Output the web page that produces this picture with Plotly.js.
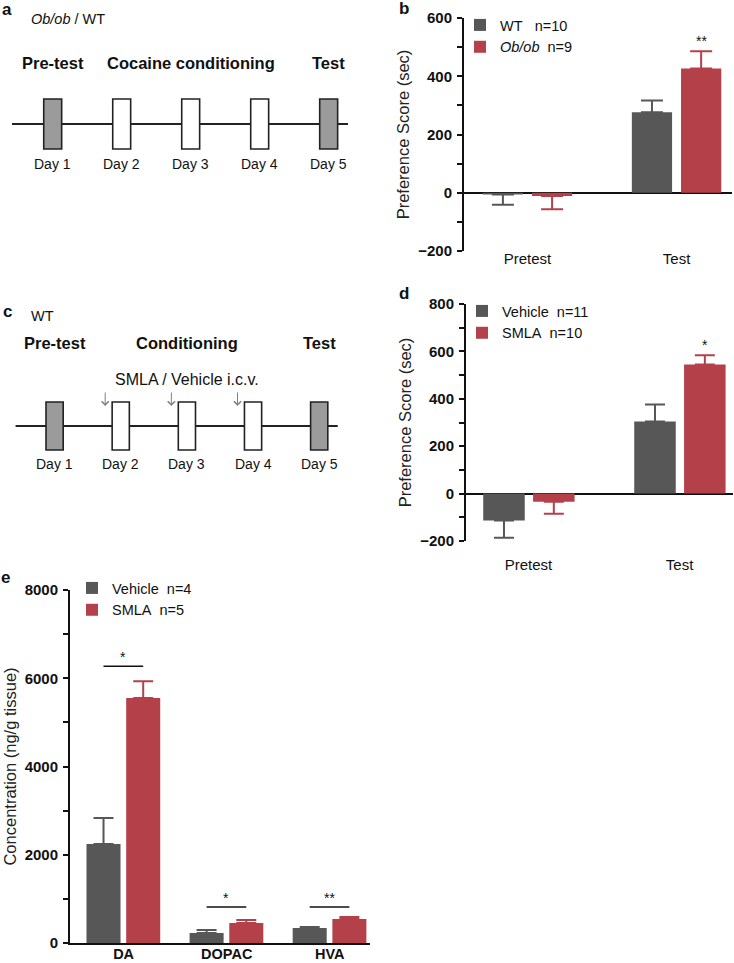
<!DOCTYPE html>
<html>
<head>
<meta charset="utf-8">
<script src="https://cdn.plot.ly/plotly-3.0.1.min.js"></script>
<style>html,body{margin:0;padding:0;background:#fff;}#chart{width:734px;height:963px;}</style>
</head>
<body>
<div id="chart"></div>
<script>
// ---------------- DATA ----------------
const prefCats = ['Pretest', 'Test'];
const bNames = ['WT\u00a0\u00a0\u00a0n=10', '<i>Ob/ob</i>\u00a0\u00a0n=9'];
const bWT = [-6, 276];
const bWTerr = [35, 41];
const bOb = [-11, 427];
const bObErr = [46, 59];
const bSig = ['', '**'];

const dNames = ['Vehicle\u00a0\u00a0n=11', 'SMLA\u00a0\u00a0n=10'];
const dVeh = [-114, 304];
const dVehErr = [72, 72];
const dSMLA = [-34, 545];
const dSMLAErr = [51, 39];
const dSig = ['', '*'];

const eCats = ['DA', 'DOPAC', 'HVA'];
const eNames = ['Vehicle\u00a0\u00a0n=4', 'SMLA\u00a0\u00a0n=5'];
const eVeh = [2242, 226, 340];
const eVehErr = [589, 68, 22];
const eSMLA = [5550, 453, 543];
const eSMLAErr = [384, 67, 46];
const eSig = ['*', '*', '**'];
const eSigY = [6274, 815, 815];

const dayNums = [1, 2, 3, 4, 5];
const dayLabels = ['Day 1', 'Day 2', 'Day 3', 'Day 4', 'Day 5'];
const dayKinds = ['test', 'cond', 'cond', 'cond', 'test'];
const phasesA = ['Pre-test', 'Cocaine conditioning', 'Test'];
const phasesC = ['Pre-test', 'Conditioning', 'Test'];
const phaseDays = [1, 3, 5];
const injectionDays = [2, 3, 4];
const injectionLabel = 'SMLA / Vehicle i.c.v.';

// ---------------- STYLE ----------------
const FONT = 'Liberation Sans, Arial, Helvetica, sans-serif';
const GRAY = '#575757';
const RED = '#b4414a';
const INK = '#111111';
const W = 734, H = 963;
const px = v => v / W;
const py = v => 1 - v / H;

function errs(vals, e) {
  return {
    plus: vals.map((v, i) => v >= 0 ? e[i] : 0),
    minus: vals.map((v, i) => v < 0 ? e[i] : 0)
  };
}
function barTrace(name, cats, vals, e, color, xa, ya, offset, width, legend, capw) {
  const er = errs(vals, e);
  return {
    type: 'bar', name: name, x: cats, y: vals, xaxis: xa, yaxis: ya,
    offset: offset, width: width, legend: legend,
    marker: {color: color, line: {width: 0}},
    error_y: {type: 'data', symmetric: false, array: er.plus, arrayminus: er.minus,
      color: color, thickness: 2, width: capw},
    hoverinfo: 'skip'
  };
}

const traces = [
  barTrace(bNames[0], prefCats, bWT, bWTerr, GRAY, 'x', 'y', -0.30, 0.27, 'legend', 11),
  barTrace(bNames[1], prefCats, bOb, bObErr, RED, 'x', 'y', 0.03, 0.27, 'legend', 11),
  barTrace(dNames[0], prefCats, dVeh, dVehErr, GRAY, 'x2', 'y2', -0.30, 0.275, 'legend2', 10),
  barTrace(dNames[1], prefCats, dSMLA, dSMLAErr, RED, 'x2', 'y2', 0.03, 0.275, 'legend2', 10),
  barTrace(eNames[0], eCats, eVeh, eVehErr, GRAY, 'x3', 'y3', -0.36, 0.33, 'legend3', 10),
  barTrace(eNames[1], eCats, eSMLA, eSMLAErr, RED, 'x3', 'y3', 0.025, 0.33, 'legend3', 10)
];

// timeline boxes (diagrams a and c)
const boxColor = k => k === 'test' ? '#9b9b9b' : '#ffffff';
[['x4', 'y4', 25], ['x5', 'y5', 24]].forEach(([xa, ya, hh]) => {
  traces.push({
    type: 'bar', x: dayNums, y: dayNums.map(() => 2 * hh), base: -hh,
    xaxis: xa, yaxis: ya, offset: -0.13, width: 0.26, showlegend: false,
    marker: {color: dayKinds.map(boxColor), line: {color: '#222', width: 1.6}},
    hoverinfo: 'skip'
  });
});

// ---------------- ANNOTATIONS ----------------
const ann = [];
const letter = (t, x, y) => ann.push({text: '<b>' + t + '</b>', xref: 'paper', yref: 'paper',
  x: px(x), y: py(y), xanchor: 'center', yanchor: 'middle', showarrow: false,
  font: {family: FONT, size: 17, color: INK}});
letter('a', 7, 9); letter('b', 404, 8); letter('c', 7, 311); letter('d', 404, 293); letter('e', 6, 577);

ann.push({text: '<i>Ob/ob</i> / WT', xref: 'paper', yref: 'paper', x: px(29), y: py(19.5),
  xanchor: 'left', yanchor: 'middle', showarrow: false, font: {family: FONT, size: 14.5, color: INK}});
ann.push({text: 'WT', xref: 'paper', yref: 'paper', x: px(29), y: py(316),
  xanchor: 'left', yanchor: 'middle', showarrow: false, font: {family: FONT, size: 14.5, color: INK}});

// phase labels and day labels
phasesA.forEach((t, i) => ann.push({text: '<b>' + t + '</b>', xref: 'x4', yref: 'y4', x: phaseDays[i], y: 61,
  showarrow: false, yanchor: 'middle', font: {family: FONT, size: 16.5, color: INK}}));
phasesC.forEach((t, i) => ann.push({text: '<b>' + t + '</b>', xref: 'x5', yref: 'y5', x: phaseDays[i], y: 83,
  showarrow: false, yanchor: 'middle', font: {family: FONT, size: 16.5, color: INK}}));
dayLabels.forEach((t, i) => {
  ann.push({text: t, xref: 'x4', yref: 'y4', x: dayNums[i], y: -40, showarrow: false,
    yanchor: 'middle', font: {family: FONT, size: 14, color: INK}});
  ann.push({text: t, xref: 'x5', yref: 'y5', x: dayNums[i], y: -38, showarrow: false,
    yanchor: 'middle', font: {family: FONT, size: 14, color: INK}});
});
ann.push({text: injectionLabel, xref: 'x5', yref: 'y5', x: 3, y: 47, showarrow: false,
  yanchor: 'middle', font: {family: FONT, size: 16, color: INK}});
injectionDays.forEach(d => ann.push({text: '', xref: 'x5', yref: 'y5', x: d - 0.235, y: 20,
  showarrow: true, ax: 0, ay: -15, arrowhead: 4, arrowsize: 1.4, arrowwidth: 1, arrowcolor: '#808080'}));

// significance stars on b and d
function stars(sig, vals, e, xa, ya, off, wd) {
  sig.forEach((s, i) => {
    if (!s) return;
    ann.push({text: s, xref: xa, yref: ya, x: i + off + wd / 2, y: vals[i] + e[i],
      yanchor: 'bottom', showarrow: false, yshift: 0, font: {family: FONT, size: 14, color: INK}});
  });
}
stars(bSig, bOb, bObErr, 'x', 'y', 0.03, 0.27);
stars(dSig, dSMLA, dSMLAErr, 'x2', 'y2', 0.03, 0.275);

// panel e significance bars
const shapes = [];
eSig.forEach((s, i) => {
  const x0 = i - 0.36 + 0.165, x1 = i + 0.025 + 0.165;
  shapes.push({type: 'line', xref: 'x3', yref: 'y3', x0: x0, x1: x1, y0: eSigY[i], y1: eSigY[i],
    line: {color: INK, width: 1.5}});
  ann.push({text: s, xref: 'x3', yref: 'y3', x: (x0 + x1) / 2, y: eSigY[i], yanchor: 'bottom',
    showarrow: false, yshift: -1, font: {family: FONT, size: 14, color: INK}});
});

// timeline base lines
['x4', 'x5'].forEach((xa, k) => shapes.push({type: 'line', xref: xa, yref: k ? 'y5' : 'y4',
  x0: 0.41, x1: 5.28, y0: 0, y1: 0, layer: 'below', line: {color: '#222', width: 2}}));

// ---------------- AXES ----------------
const tickBold = {family: FONT, size: 15, color: INK, weight: 'bold'};
function yAx(dom, range, dtick, minor, title, anchor) {
  return {
    domain: dom, anchor: anchor, range: range, dtick: dtick, tick0: 0, fixedrange: true,
    ticks: 'outside', ticklen: 5, tickwidth: 2, tickcolor: INK,
    minor: {dtick: minor, ticks: 'outside', ticklen: 5, tickwidth: 2, tickcolor: INK, showgrid: false},
    showline: true, linewidth: 2, linecolor: INK, showgrid: false,
    zeroline: true, zerolinewidth: 2, zerolinecolor: INK,
    tickfont: tickBold, ticklabelstandoff: 2,
    title: {text: title, font: {family: FONT, size: 16.5, color: '#222'}, standoff: 4}
  };
}
function xAx(dom, range, anchor, font, extra) {
  return Object.assign({
    domain: dom, anchor: anchor, type: 'category', range: range, fixedrange: true,
    showline: false, ticks: '', showgrid: false, zeroline: false,
    tickfont: font
  }, extra || {});
}
const catFont = {family: FONT, size: 15, color: INK};

const layout = {
  width: W, height: H, margin: {l: 0, r: 0, t: 0, b: 0},
  paper_bgcolor: '#fff', plot_bgcolor: 'rgba(0,0,0,0)',
  barmode: 'overlay', hovermode: false, showlegend: true,
  font: {family: FONT, color: INK},
  xaxis: xAx([px(464), px(732)], [-0.426, 1.372], 'y', catFont, {ticklabelstandoff: -3}),
  yaxis: yAx([py(251), py(18)], [-200, 600], 200, 100, 'Preference Score (sec)', 'x'),
  xaxis2: xAx([px(466), px(733)], [-0.414, 1.354], 'y2', catFont, {ticklabelstandoff: 13}),
  yaxis2: yAx([py(541), py(304)], [-200, 800], 200, 100, 'Preference Score (sec)', 'x2'),
  xaxis3: xAx([px(70), px(370)], [-0.52, 2.39], 'y3',
    {family: FONT, size: 14.5, color: INK, weight: 'bold'},
    {showline: true, linewidth: 2, linecolor: INK, ticklabelstandoff: -3}),
  yaxis3: Object.assign(yAx([py(943), py(590)], [0, 8000], 2000, 1000, 'Concentration (ng/g tissue)', 'x3'), {zeroline: false}),
  xaxis4: {domain: [0, px(370)], anchor: 'y4', range: [0.2362, 5.599], visible: false, fixedrange: true},
  yaxis4: {domain: [py(200), 1], anchor: 'x4', range: [-76, 124], visible: false, fixedrange: true},
  xaxis5: {domain: [0, px(370)], anchor: 'y5', range: [0.1746, 5.768], visible: false, fixedrange: true},
  yaxis5: {domain: [py(500), py(250)], anchor: 'x5', range: [-74, 176], visible: false, fixedrange: true},
  legend: {x: px(460), y: py(9), xanchor: 'left', yanchor: 'top', bgcolor: 'rgba(0,0,0,0)',
    font: {family: FONT, size: 14.5, color: INK}, tracegroupgap: 0},
  legend2: {x: px(462), y: py(295), xanchor: 'left', yanchor: 'top', bgcolor: 'rgba(0,0,0,0)',
    font: {family: FONT, size: 14.5, color: INK}, tracegroupgap: 0},
  legend3: {x: px(72), y: py(572), xanchor: 'left', yanchor: 'top', bgcolor: 'rgba(0,0,0,0)',
    font: {family: FONT, size: 14.5, color: INK}, tracegroupgap: 0},
  annotations: ann,
  shapes: shapes
};

Plotly.newPlot('chart', traces, layout, {displayModeBar: false, staticPlot: true});
</script>
</body>
</html>
